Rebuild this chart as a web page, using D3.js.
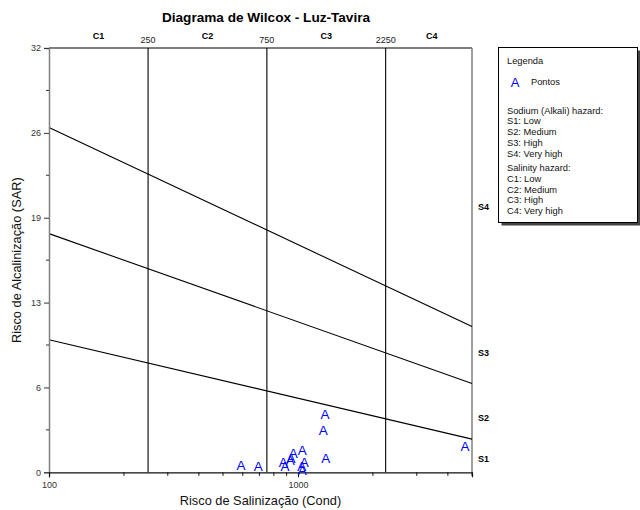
<!DOCTYPE html>
<html>
<head>
<meta charset="utf-8">
<script src="https://cdn.jsdelivr.net/npm/d3@7"></script>
<style>
  html, body { margin: 0; padding: 0; background: #fff; }
  svg { display: block; font-family: "Liberation Sans", Arial, sans-serif; }
</style>
</head>
<body>
<svg id="chart" width="640" height="510"></svg>
<script>
// ---- data ----
const titleText = "Diagrama de Wilcox - Luz-Tavira";
const xLabel = "Risco de Salinização (Cond)";
const yLabel = "Risco de Alcalinização (SAR)";

const ecValues  = [590, 693, 873, 887, 937, 958, 931, 1041, 1060, 1035, 1041, 1284, 1264, 1292, 4686];
const sarValues = [0.56, 0.49, 0.77, 0.44, 1.07, 1.44, 0.89, 1.64, 0.74, 0.44, 0.19, 4.40, 3.20, 1.07, 1.99];
const pointSymbol = "A";

const xDomain = [100, 5000];
const yDomain = [0, 32];

const salinityBounds = [250, 750, 2250];
const salinityBoundLabels = ["250", "750", "2250"];
const salinityClasses = ["C1", "C2", "C3", "C4"];

const sodiumLineStart = [10.0, 18.0, 26.0];   // SAR at EC = 100
const sodiumLineEnd   = [2.5, 6.7, 11.0];     // SAR at EC = 5000
const sodiumClasses = ["S1", "S2", "S3", "S4"];
const sodiumLabelSar = [0.98, 4.1, 9.0, 20.0];

const yMajorTicks = [0, 6.4, 12.8, 19.2, 25.6, 32];
const yMajorLabels = ["0", "6", "13", "19", "26", "32"];
const yMinorTicks = [3.2, 9.6, 16, 22.4, 28.8];

const xMajorTicks = [100, 1000];
const xMajorLabels = ["100", "1000"];
const xMinorTicks = [200, 300, 400, 500, 600, 700, 800, 900, 2000, 3000, 4000, 5000];

const legendTitle = "Legenda";
const legendSeries = "Pontos";
const legendLines = [
  ["Sodium (Alkali) hazard:", "S1: Low", "S2: Medium", "S3: High", "S4: Very high"],
  ["Salinity hazard:", "C1: Low", "C2: Medium", "C3: High", "C4: Very high"]
];

// ---- drawing ----
const svg = d3.select("#chart");
const L = 49, R = 472, T = 48, B = 472.3;

const x = d3.scaleLog().domain(xDomain).range([L, R]);
const y = d3.scaleLinear().domain(yDomain).range([B, T]);

// title
svg.append("text").attr("x", 266).attr("y", 22)
  .attr("text-anchor", "middle").attr("font-weight", "bold").attr("font-size", 13.6)
  .attr("fill", "#000").text(titleText);

// frame: top line black, right line gray
svg.append("line").attr("x1", L).attr("x2", R).attr("y1", T).attr("y2", T)
  .attr("stroke", "#000").attr("stroke-width", 1.2);
svg.append("line").attr("x1", R).attr("x2", R).attr("y1", T).attr("y2", B)
  .attr("stroke", "#808080").attr("stroke-width", 1.5);

// salinity boundaries (vertical)
svg.append("g").selectAll("line").data(salinityBounds).join("line")
  .attr("x1", d => x(d)).attr("x2", d => x(d))
  .attr("y1", T).attr("y2", B)
  .attr("stroke", "#000").attr("stroke-width", 1.1);

svg.append("g").selectAll("text").data(salinityBounds).join("text")
  .attr("x", d => x(d)).attr("y", 43)
  .attr("text-anchor", "middle").attr("font-size", 9).attr("fill", "#222")
  .text((d, i) => salinityBoundLabels[i]);

const classEdges = [xDomain[0], ...salinityBounds, xDomain[1]];
svg.append("g").selectAll("text").data(salinityClasses).join("text")
  .attr("x", (d, i) => x(Math.sqrt(classEdges[i] * classEdges[i + 1])) + (i === 3 ? 3 : 0))
  .attr("y", 38.5)
  .attr("text-anchor", "middle").attr("font-size", 9).attr("font-weight", "bold").attr("fill", "#000")
  .text(d => d);

// sodium boundaries (sloped)
svg.append("g").selectAll("line").data(sodiumLineStart).join("line")
  .attr("x1", x(xDomain[0])).attr("y1", d => y(d))
  .attr("x2", x(xDomain[1])).attr("y2", (d, i) => y(sodiumLineEnd[i]))
  .attr("stroke", "#000").attr("stroke-width", 1.1);

svg.append("g").selectAll("text").data(sodiumClasses).join("text")
  .attr("x", 478).attr("y", (d, i) => y(sodiumLabelSar[i]))
  .attr("dy", "0.35em")
  .attr("font-size", 9).attr("font-weight", "bold").attr("fill", "#000")
  .text(d => d);

// y axis
const yAxis = svg.append("g").attr("transform", `translate(${L},0)`)
  .call(d3.axisLeft(y).tickValues(yMajorTicks).tickSize(5).tickPadding(3)
    .tickFormat((d, i) => yMajorLabels[i]));
yAxis.select(".domain").attr("stroke", "#808080").attr("stroke-width", 1.5);
yAxis.selectAll(".tick line").attr("stroke", "#333");
yAxis.selectAll(".tick text").attr("font-size", 9).attr("fill", "#333")
  .attr("font-family", "Liberation Sans, Arial, sans-serif");
yAxis.append("g").selectAll("line").data(yMinorTicks).join("line")
  .attr("x1", -3).attr("x2", 0).attr("y1", d => y(d)).attr("y2", d => y(d))
  .attr("stroke", "#333");

// x axis
const xAxis = svg.append("g").attr("transform", `translate(0,${B})`)
  .call(d3.axisBottom(x).tickValues(xMajorTicks).tickSize(5).tickPadding(4)
    .tickFormat((d, i) => xMajorLabels[i]));
xAxis.select(".domain").attr("stroke", "#111").attr("stroke-width", 1.2);
xAxis.selectAll(".tick line").attr("stroke", "#111");
xAxis.selectAll(".tick text").attr("font-size", 9).attr("fill", "#333")
  .attr("font-family", "Liberation Sans, Arial, sans-serif");
xAxis.append("g").selectAll("line").data(xMinorTicks).join("line")
  .attr("x1", d => x(d)).attr("x2", d => x(d)).attr("y1", 0).attr("y2", 3.5)
  .attr("stroke", "#111");

// axis titles
svg.append("text").attr("x", (L + R) / 2).attr("y", 505)
  .attr("text-anchor", "middle").attr("font-size", 12.8).attr("fill", "#111")
  .text(xLabel);
svg.append("text")
  .attr("transform", `translate(21,${(T + B) / 2}) rotate(-90)`)
  .attr("text-anchor", "middle").attr("font-size", 12.8).attr("fill", "#111")
  .text(yLabel);

// points
svg.append("g").selectAll("text").data(ecValues).join("text")
  .attr("x", d => x(d)).attr("y", (d, i) => y(sarValues[i]))
  .attr("dy", "0.36em").attr("text-anchor", "middle")
  .attr("font-size", 13.5).attr("fill", "#0000ff")
  .text(pointSymbol);

// legend
const lg = svg.append("g");
const lgX = 498.5, lgY = 47.5, lgW = 139, lgH = 175;
lg.append("rect").attr("x", lgX + 3).attr("y", lgY + 3).attr("width", lgW).attr("height", lgH)
  .attr("fill", "#444");
lg.append("rect").attr("x", lgX).attr("y", lgY).attr("width", lgW).attr("height", lgH)
  .attr("fill", "#fff").attr("stroke", "#000").attr("stroke-width", 1);
lg.append("text").attr("x", 507).attr("y", 64).attr("font-size", 9.3).attr("fill", "#111")
  .text(legendTitle);
lg.append("text").attr("x", 515).attr("y", 82).attr("dy", "0.36em").attr("text-anchor", "middle")
  .attr("font-size", 13).attr("fill", "#0000ff").text(pointSymbol);
lg.append("text").attr("x", 531).attr("y", 85).attr("font-size", 9.3).attr("fill", "#111")
  .text(legendSeries);

const groupStart = [113.5, 171];
legendLines.forEach((grp, gi) => {
  lg.append("g").selectAll("text").data(grp).join("text")
    .attr("x", 507).attr("y", (d, i) => groupStart[gi] + i * 10.8)
    .attr("font-size", 9.3).attr("fill", "#111")
    .text(d => d);
});
</script>
</body>
</html>
